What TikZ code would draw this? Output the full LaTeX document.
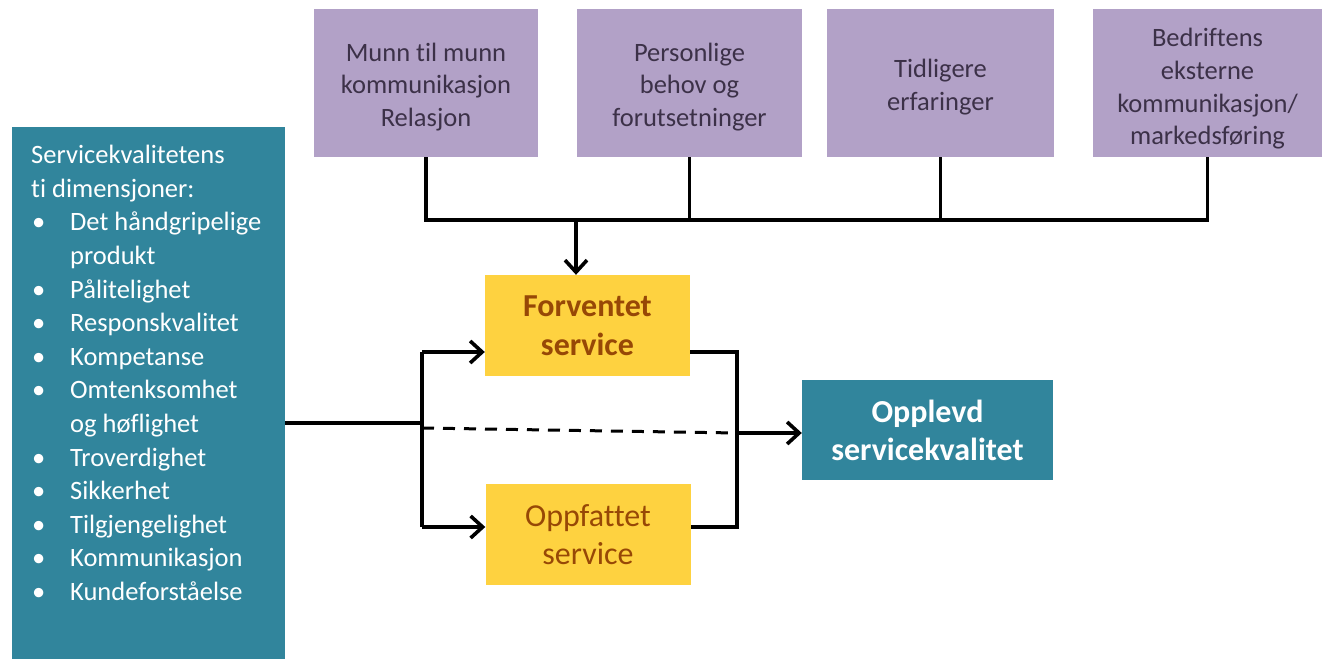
\documentclass[tikz,border=0pt]{standalone}
\usepackage{fontspec}
\setmainfont{Carlito}[Ligatures=NoCommon]
\usetikzlibrary{arrows.meta}
\definecolor{dimteal}{HTML}{31859C}
\definecolor{factorfill}{HTML}{B2A1C7}
\definecolor{factorink}{HTML}{3C3148}
\definecolor{servfill}{HTML}{FED240}
\definecolor{servink}{HTML}{974806}
\newcommand{\itm}[1]{\makebox[39pt][l]{\hspace{1pt}\textbullet}#1}
\newcommand{\cnt}[1]{\hspace*{39pt}#1}
\begin{document}
\begin{tikzpicture}[x=1pt,y=-1pt,
  factor/.style={fill=factorfill, inner sep=0pt, minimum height=148pt},
  factortext/.style={text=factorink, align=center, inner sep=0pt,
    font=\fontsize{26.5}{32.7}\selectfont},
  serv/.style={fill=servfill, text=servink, align=center, inner sep=0pt,
    minimum width=205pt, minimum height=101pt, font=\fontsize{32}{38.5}\selectfont},
  tealbox/.style={fill=dimteal, text=white, align=center, inner sep=0pt},
  wire/.style={line width=3.6pt, black},
  arr/.style={wire, -{Straight Barb[length=12pt,width=22pt]}}]
\useasboundingbox (0,0) rectangle (1328,659);

% influence factors along the top
\node[factor, minimum width=224pt] (p1) at (426,83) {};
\node[factortext] at ([yshift=-4pt]p1.center) {Munn til munn\\kommunikasjon\\Relasjon};
\node[factor, minimum width=225pt] (p2) at (689.5,83) {};
\node[factortext] at ([yshift=-4pt]p2.center) {Personlige\\behov og\\forutsetninger};
\node[factor, minimum width=227pt] (p3) at (940.5,83) {};
\node[factortext] at ([yshift=-4pt]p3.center) {Tidligere\\erfaringer};
\node[factor, minimum width=229pt] (p4) at (1207.5,83) {};
\node[factortext] at ([yshift=-6pt]p4.center) {Bedriftens\\eksterne\\kommunikasjon/\\markedsføring};

% the ten dimensions
\node[tealbox, minimum width=273pt, minimum height=532pt] (dims) at (148.5,393) {};
\node[anchor=north west, inner sep=0pt, align=left, text=white,
  font=\fontsize{26.5}{33.6}\selectfont] (dimslist) at (31,145)
  {Servicekvalitetens\\
   ti dimensjoner:\\
   \itm{Det håndgripelige}\\
   \cnt{produkt}\\
   \itm{Pålitelighet}\\
   \itm{Responskvalitet}\\
   \itm{Kompetanse}\\
   \itm{Omtenksomhet}\\
   \cnt{og høflighet}\\
   \itm{Troverdighet}\\
   \itm{Sikkerhet}\\
   \itm{Tilgjengelighet}\\
   \itm{Kommunikasjon}\\
   \itm{Kundeforståelse}};

% expected and perceived service
\node[serv, font=\fontsize{32}{38.5}\selectfont\bfseries] (fs) at (587.5,325.5) {Forventet\\service};
\node[serv] (os) at (588,534.5) {Oppfattet\\service};

% result
\node[tealbox, minimum width=251pt, minimum height=100pt,
  font=\fontsize{32}{38}\selectfont\bfseries] (oq) at (927.5,430) {Opplevd\\servicekvalitet};

% collecting bus under the factors
\coordinate (busL) at (425,220);
\coordinate (drop) at (576,220);
\draw[wire] (p1.south) -- (p1.south |- busL) -- (p4.south |- busL) -- (p4.south);
\draw[wire] (p2.south) -- (p2.south |- busL);
\draw[wire] (p3.south) -- (p3.south |- busL);
\draw[arr] (drop) -- (drop |- fs.north);

% fork from the dimensions to both services
\coordinate (split) at (422,423);
\coordinate (dashStart) at (422,428);
\coordinate (forkTop) at (422,352);
\coordinate (forkBot) at (422,527);
\draw[wire] (dims.east |- split) -- (split);
\draw[wire] (forkTop) -- (forkBot);
\draw[arr] (forkTop) -- (fs.west |- forkTop);
\draw[arr] (forkBot) -- (os.west |- forkBot);

% joining bracket towards the result
\coordinate (joinTop) at (737,352);
\coordinate (joinBot) at (737,527);
\coordinate (join) at (737,433);
\draw[wire] (fs.east |- joinTop) -- (joinTop) -- (joinBot) -- (os.east |- joinBot);
\draw[line width=3pt, dash pattern=on 12pt off 9pt] (dashStart) -- (join);
\draw[arr] (join) -- (oq.west |- join);
\end{tikzpicture}
\end{document}
